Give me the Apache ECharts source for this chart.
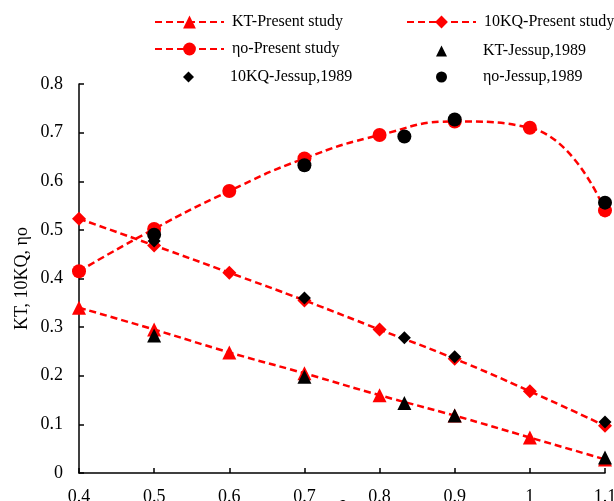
<!DOCTYPE html>
<html>
<head>
<meta charset="utf-8">
<title>KT, 10KQ, ηo vs J</title>
<script src="https://cdn.jsdelivr.net/npm/echarts@6/dist/echarts.min.js"></script>
<style>
  html, body { margin: 0; padding: 0; background: #fff; }
  #chart { width: 614px; height: 501px; }
</style>
</head>
<body>
<div id="chart"></div>
<script>
// advance ratio J
var jPresent = [0.4, 0.5, 0.6, 0.7, 0.8, 0.9, 1.0, 1.1];
var ktPresent = [0.340, 0.295, 0.248, 0.205, 0.160, 0.118, 0.073, 0.028];
var kqPresent = [0.523, 0.468, 0.412, 0.355, 0.295, 0.235, 0.168, 0.097];
var etaPresent = [0.415, 0.502, 0.580, 0.647, 0.695, 0.723, 0.710, 0.540];

// Jessup, 1989 reference points
var jJessup = [0.5, 0.7, 0.833, 0.9, 1.1];
var ktJessup = [0.283, 0.198, 0.144, 0.118, 0.032];
var kqJessup = [0.477, 0.360, 0.278, 0.239, 0.105];
var etaJessup = [0.490, 0.633, 0.692, 0.727, 0.556];

var names = ['KT-Present study', '10KQ-Present study', 'ηo-Present study',
  'KT-Jessup,1989', '10KQ-Jessup,1989', 'ηo-Jessup,1989'];

var FONT = '"Liberation Serif", "Times New Roman", serif';

function pairs(xs, ys) {
  return xs.map(function (x, i) { return [x, ys[i]]; });
}

function present(name, ys, symbol, size) {
  return {
    name: name,
    type: 'line',
    smooth: true,
    data: pairs(jPresent, ys),
    symbol: symbol,
    symbolSize: size,
    itemStyle: { color: '#ff0000' },
    lineStyle: { color: '#ff0000', width: 2.5, type: [7, 4] },
    z: 2
  };
}

function jessup(name, ys, symbol, size) {
  return {
    name: name,
    type: 'scatter',
    data: pairs(jJessup, ys),
    symbol: symbol,
    symbolSize: size,
    itemStyle: { color: '#000000', opacity: 1 },
    z: 3
  };
}

// one legend box per entry, 2 columns x 3 rows
// [left, top, is line entry]
var legendPos = [
  [154, 14, true], [406, 14, true],
  [154, 41, true], [436, 43, false],
  [183, 69, false], [436, 69, false]
];
var legends = names.map(function (n, i) {
  var p = legendPos[i];
  var lineItem = p[2];
  return {
    data: [n],
    left: p[0],
    top: p[1],
    padding: 0,
    itemWidth: lineItem ? 69 : 11,
    itemHeight: lineItem ? 16 : 11,
    textStyle: {
      fontFamily: FONT, fontSize: 16, color: '#000',
      padding: [0, 0, 0, lineItem ? 3 : 31]
    },
    selectedMode: false
  };
});

var labelFmt = function (v) { return String(Math.round(v * 10) / 10); };

var chart = echarts.init(document.getElementById('chart'));
chart.setOption({
  animation: false,
  backgroundColor: '#fff',
  legend: legends,
  grid: { left: 79, right: 9, top: 84, bottom: 28, containLabel: false, outerBoundsMode: 'none' },
  xAxis: {
    type: 'value',
    min: 0.4,
    max: 1.1,
    interval: 0.1,
    name: 'J',
    nameLocation: 'middle',
    nameGap: 26,
    nameMoveOverlap: false,
    nameTextStyle: { fontFamily: FONT, fontSize: 18, color: '#000' },
    axisLine: { lineStyle: { color: '#000', width: 1.5 } },
    axisTick: { inside: true, length: 5, lineStyle: { color: '#000', width: 1.5 } },
    axisLabel: { fontFamily: FONT, fontSize: 18, color: '#000', margin: 15, formatter: labelFmt },
    splitLine: { show: false }
  },
  yAxis: {
    type: 'value',
    min: 0,
    max: 0.8,
    interval: 0.1,
    name: 'KT, 10KQ, ηo',
    nameLocation: 'middle',
    nameGap: 48,
    nameMoveOverlap: false,
    nameTextStyle: { fontFamily: FONT, fontSize: 18, color: '#000' },
    axisLine: { show: true, lineStyle: { color: '#000', width: 1.5 } },
    axisTick: { show: true, inside: true, length: 5, lineStyle: { color: '#000', width: 1.5 } },
    axisLabel: { fontFamily: FONT, fontSize: 18, color: '#000', margin: 16, formatter: labelFmt },
    splitLine: { show: false }
  },
  series: [
    present(names[0], ktPresent, 'triangle', 14),
    present(names[1], kqPresent, 'diamond', 14),
    present(names[2], etaPresent, 'circle', 14),
    jessup(names[3], ktJessup, 'triangle', 14),
    jessup(names[4], kqJessup, 'diamond', 13),
    jessup(names[5], etaJessup, 'circle', 14)
  ]
});
</script>
</body>
</html>
